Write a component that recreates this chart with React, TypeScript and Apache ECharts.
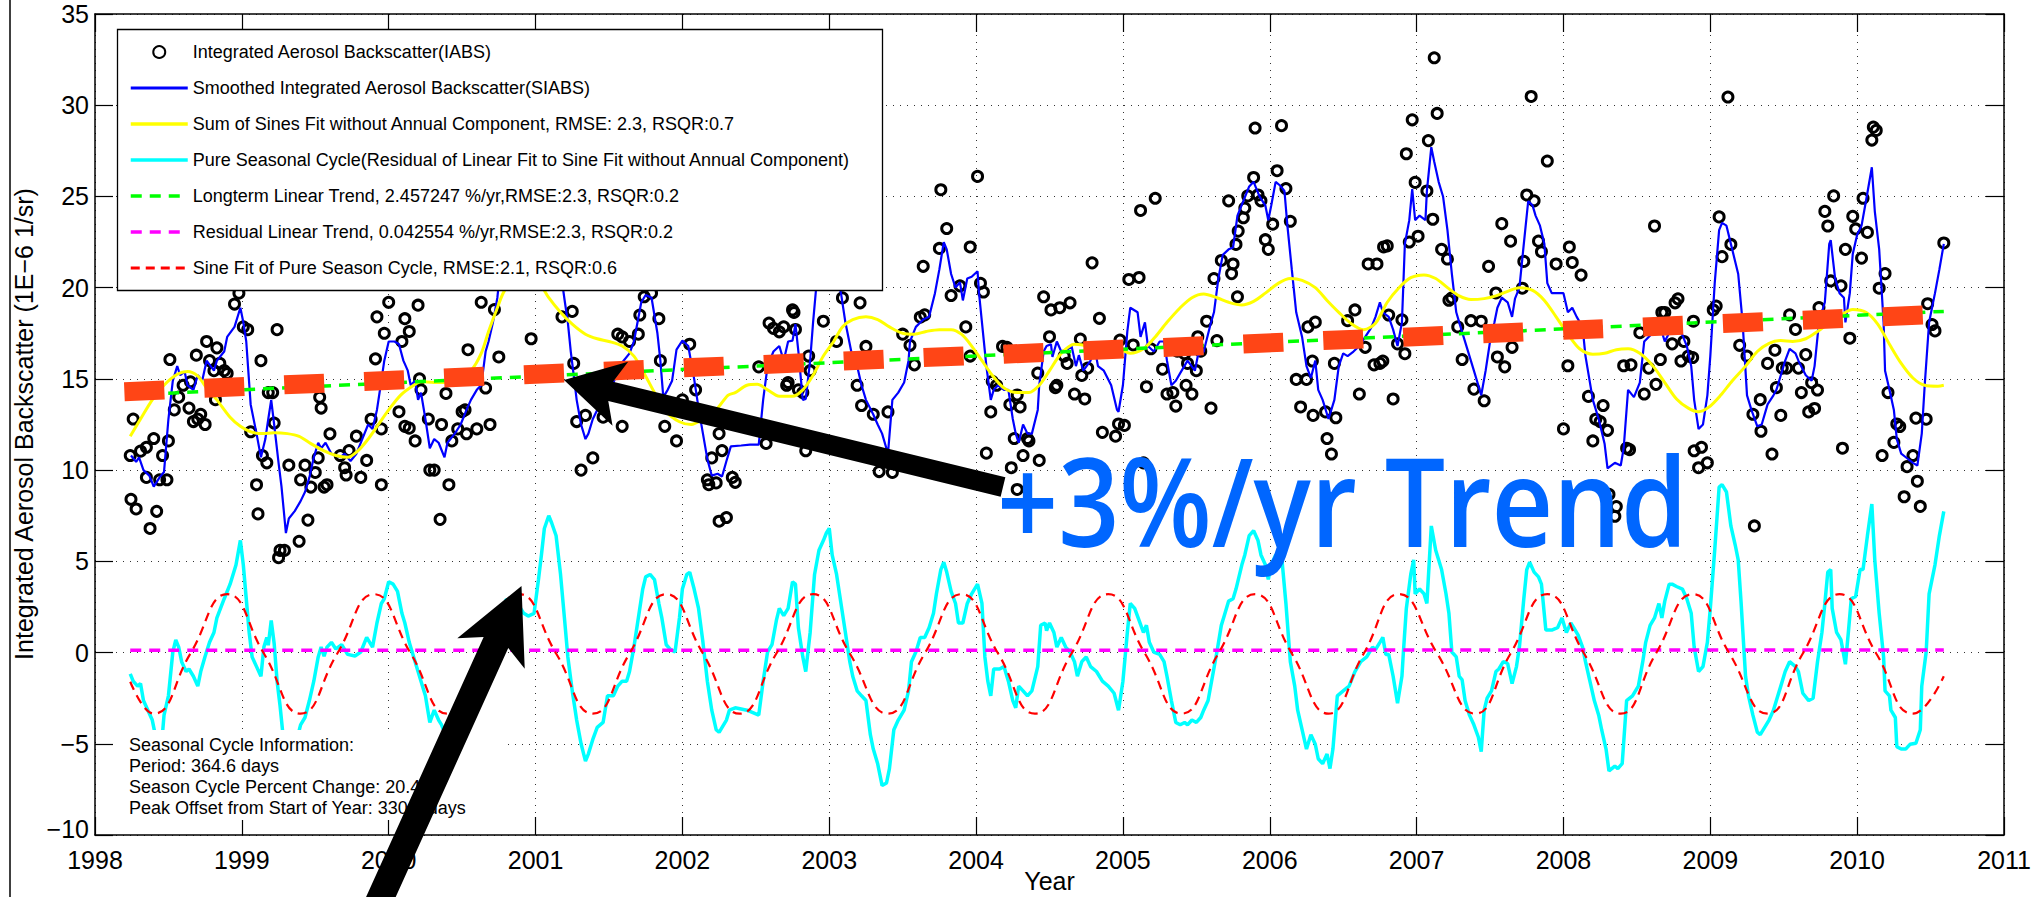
import React, { useEffect, useRef } from "react";
import * as echarts from "echarts";

const FONT = "'Liberation Sans', Arial, Helvetica, sans-serif";

const X_MIN = 1998;
const X_MAX = 2011;
const Y_MIN = -10;
const Y_MAX = 35;

const LEGEND_NAMES = [
  "Integrated Aerosol Backscatter(IABS)",
  "Smoothed Integrated Aerosol Backscatter(SIABS)",
  "Sum of Sines Fit without Annual Component, RMSE: 2.3, RSQR:0.7",
  "Pure Seasonal Cycle(Residual of Linear Fit to Sine Fit without Annual Component)",
  "Longterm Linear Trend, 2.457247 %/yr,RMSE:2.3, RSQR:0.2",
  "Residual Linear Trend, 0.042554 %/yr,RMSE:2.3, RSQR:0.2",
  "Sine Fit of Pure Season Cycle, RMSE:2.1, RSQR:0.6",
];

const INFO_LINES = [
  "Seasonal Cycle Information:",
  "Period: 364.6 days",
  "Season Cycle Percent Change: 20.4%",
  "Peak Offset from Start of Year: 330.2 days",
];

const ANNOTATION = "+3%/yr Trend";
const X_TITLE = "Year";
const Y_TITLE = "Integrated Aerosol Backscatter (1E\u22126 1/sr)";

// IABS observations [year, value]
const IABS: [number, number][] = [
  [1998.24, 10.8], [1998.245, 8.4], [1998.28, 7.87], [1998.26, 12.8], [1998.31, 11.04], [1998.35, 11.25],
  [1998.40, 11.73], [1998.35, 9.6], [1998.375, 6.8], [1998.42, 7.74], [1998.44, 9.47], [1998.49, 9.47],
  [1998.46, 10.8], [1998.50, 11.6], [1998.51, 16.06], [1998.54, 13.3], [1998.57, 14.0], [1998.60, 14.65],
  [1998.64, 13.4], [1998.65, 14.84], [1998.67, 12.66], [1998.70, 12.8], [1998.72, 13.06], [1998.75, 12.5],
  [1998.69, 16.3], [1998.76, 17.05], [1998.78, 16.0], [1998.81, 15.45], [1998.83, 16.7], [1998.82, 13.86],
  [1998.85, 15.85], [1998.88, 15.45], [1998.90, 15.3], [1998.95, 19.1], [1998.98, 19.7], [1999.01, 17.85],
  [1999.04, 17.7], [1999.13, 16.0], [1999.24, 17.7], [1999.06, 12.1], [1999.10, 9.2], [1999.11, 7.6],
  [1999.14, 10.8], [1999.17, 10.4], [1999.18, 14.25], [1999.21, 14.25], [1999.22, 12.58], [1999.26, 5.6],
  [1999.29, 5.6], [1999.25, 5.2], [1999.39, 6.1], [1999.45, 7.26], [1999.32, 10.27], [1999.40, 9.47],
  [1999.43, 10.27], [1999.47, 9.07], [1999.50, 9.87], [1999.52, 10.67], [1999.56, 9.07], [1999.58, 9.2],
  [1999.60, 11.99], [1999.53, 13.99], [1999.54, 13.4], [1999.67, 10.8], [1999.70, 10.13], [1999.71, 9.73],
  [1999.73, 11.07], [1999.78, 11.86], [1999.81, 9.6], [1999.85, 10.53], [1999.88, 12.79], [1999.91, 16.1],
  [1999.95, 9.2], [1999.95, 12.26], [1999.92, 18.4], [1999.97, 17.5], [2000.00, 19.2], [2000.09, 17.05],
  [2000.11, 18.3], [2000.14, 17.6], [2000.20, 19.04], [2000.07, 13.2], [2000.11, 12.4], [2000.14, 12.3],
  [2000.18, 11.6], [2000.21, 15.0], [2000.22, 14.4], [2000.27, 12.8], [2000.28, 10.0], [2000.31, 10.0],
  [2000.36, 12.5], [2000.35, 7.3], [2000.39, 14.2], [2000.41, 9.2], [2000.43, 11.6], [2000.47, 12.26],
  [2000.50, 13.2], [2000.53, 11.99], [2000.52, 13.3], [2000.54, 16.6], [2000.60, 12.26], [2000.66, 14.5],
  [2000.63, 19.2], [2000.69, 12.5], [2000.72, 18.8], [2000.75, 16.2], [2000.97, 17.2], [2001.18, 18.4],
  [2001.25, 18.7], [2001.26, 15.85], [2001.28, 12.66], [2001.31, 10.0], [2001.39, 10.67], [2001.34, 13.0],
  [2001.46, 12.9], [2001.59, 12.4], [2001.56, 17.45], [2001.59, 17.3], [2001.64, 17.05], [2001.70, 17.45],
  [2001.71, 18.5], [2001.74, 19.5], [2001.79, 19.7], [2001.84, 18.3], [2001.85, 16.0], [2001.88, 12.4],
  [2001.96, 11.6], [2002.00, 13.85], [2002.09, 14.4], [2002.05, 16.9], [2002.18, 9.2], [2002.25, 7.2],
  [2002.30, 7.4], [2002.17, 9.47], [2002.20, 10.67], [2002.27, 11.07], [2002.25, 12.0], [2002.23, 9.3],
  [2002.34, 9.6],
  [2002.36, 9.33], [2002.52, 15.66], [2002.57, 11.46], [2002.59, 18.06], [2002.62, 17.77], [2002.66, 17.58],
  [2002.69, 17.85], [2002.71, 14.65], [2002.72, 14.8], [2002.75, 18.78], [2002.76, 18.64], [2002.77, 17.71],
  [2002.79, 14.4], [2002.82, 14.25], [2002.84, 11.06], [2002.86, 16.25], [2002.87, 15.45], [2002.96, 18.16],
  [2003.05, 17.05], [2003.09, 19.44], [2003.21, 19.17], [2003.19, 14.65], [2003.22, 13.54], [2003.25, 16.78],
  [2003.30, 13.06], [2003.34, 9.92], [2003.40, 13.19], [2003.43, 9.87], [2003.50, 17.45], [2003.55, 16.84],
  [2003.58, 15.77], [2003.62, 18.38], [2003.65, 18.51], [2003.64, 21.17], [2003.75, 22.15], [2003.76, 25.37],
  [2003.80, 23.24], [2003.83, 19.57], [2003.89, 20.1], [2003.93, 17.85], [2003.96, 22.23], [2004.01, 26.1],
  [2004.03, 20.24], [2004.05, 19.76], [2003.96, 16.25], [2004.07, 10.93], [2004.10, 13.19], [2004.11, 14.87],
  [2004.14, 14.65], [2004.18, 16.78], [2004.21, 16.73], [2004.23, 13.59], [2004.26, 11.73], [2004.28, 14.12],
  [2004.30, 13.46], [2004.32, 10.8], [2004.35, 11.73], [2004.36, 11.6], [2004.42, 15.32], [2004.43, 10.53],
  [2004.24, 10.13], [2004.28, 8.94], [2004.46, 19.5], [2004.50, 17.31], [2004.51, 18.78], [2004.57, 18.9],
  [2004.64, 19.17], [2004.54, 14.52], [2004.55, 14.65], [2004.60, 16.25], [2004.62, 15.85], [2004.67, 14.17],
  [2004.71, 17.18], [2004.72, 15.19], [2004.74, 13.9], [2004.76, 15.59], [2004.79, 21.36], [2004.84, 18.32],
  [2004.86, 12.07], [2004.95, 11.86], [2004.97, 12.53], [2005.01, 12.45], [2004.98, 17.13], [2005.04, 20.45],
  [2005.11, 20.56], [2005.07, 16.86], [2005.12, 24.23], [2005.22, 24.9], [2005.16, 14.57], [2005.14, 10.4],
  [2005.19, 16.65], [2005.27, 15.53], [2005.30, 14.17], [2005.34, 14.25], [2005.36, 13.51], [2005.43, 14.65],
  [2005.44, 15.85], [2005.47, 14.17], [2005.50, 15.45], [2005.37, 16.52], [2005.42, 16.38], [2005.51, 17.31],
  [2005.53, 16.52], [2005.60, 13.4], [2005.57, 18.16], [2005.64, 17.1], [2005.62, 20.5], [2005.67, 21.49],
  [2005.74, 20.77], [2005.75, 21.3], [2005.77, 22.37], [2005.72, 24.76], [2005.78, 19.5], [2005.785, 23.1],
  [2005.82, 23.83], [2005.83, 24.36], [2005.85, 25.03], [2005.89, 26.04], [2005.92, 25.08], [2005.90, 28.75],
  [2005.94, 24.76], [2005.97, 22.63], [2005.99, 22.1], [2006.02, 23.48], [2006.05, 26.41], [2006.08, 28.88],
  [2006.11, 25.43], [2006.14, 23.64], [2006.18, 14.97], [2006.21, 13.46], [2006.26, 17.85], [2006.31, 18.11],
  [2006.29, 15.98], [2006.25, 14.97], [2006.295, 13.0], [2006.38, 13.19], [2006.39, 11.73], [2006.42, 10.88],
  [2006.45, 12.87], [2006.44, 15.85], [2006.53, 18.19], [2006.58, 18.78], [2006.61, 14.17], [2006.65, 16.73],
  [2006.67, 21.3], [2006.71, 15.77],
  [2006.73, 21.3], [2006.75, 15.85], [2006.77, 15.98], [2006.775, 22.23], [2006.80, 22.29], [2006.81, 18.5],
  [2006.84, 13.9], [2006.87, 16.92], [2006.90, 18.24], [2006.92, 16.38], [2006.93, 27.34], [2006.95, 22.5],
  [2006.97, 29.2], [2006.99, 25.77], [2007.01, 22.82], [2007.07, 25.3], [2007.08, 28.06], [2007.11, 23.75],
  [2007.12, 32.6], [2007.14, 29.55], [2007.17, 22.1], [2007.21, 21.57], [2007.22, 19.31], [2007.24, 19.44],
  [2007.28, 17.85], [2007.31, 16.06], [2007.37, 18.19], [2007.39, 14.44], [2007.44, 18.16], [2007.46, 13.8],
  [2007.49, 21.17], [2007.54, 19.71], [2007.55, 16.2], [2007.58, 23.51], [2007.60, 15.66], [2007.64, 22.55],
  [2007.65, 16.73], [2007.72, 19.97], [2007.73, 21.44], [2007.75, 25.08], [2007.78, 30.48], [2007.80, 24.76],
  [2007.83, 22.55], [2007.85, 21.97], [2007.89, 26.94], [2007.95, 21.3], [2008.00, 12.26], [2008.03, 15.72],
  [2008.04, 22.23], [2008.06, 21.38], [2008.12, 20.69], [2008.17, 14.04], [2008.20, 11.6], [2008.22, 12.79],
  [2008.25, 12.66], [2008.27, 13.54], [2008.30, 12.18], [2008.31, 8.67], [2008.36, 8.0], [2008.35, 7.47],
  [2008.41, 15.72], [2008.43, 11.2], [2008.46, 15.77], [2008.45, 11.12], [2008.52, 17.53], [2008.55, 14.17],
  [2008.58, 15.59], [2008.62, 23.38], [2008.63, 14.7], [2008.66, 16.06], [2008.67, 18.64], [2008.69, 18.64],
  [2008.74, 16.92], [2008.76, 19.17], [2008.78, 19.39], [2008.80, 15.98], [2008.82, 17.05], [2008.85, 16.25],
  [2008.88, 16.17], [2008.885, 18.16], [2008.89, 11.06], [2008.92, 10.13], [2008.94, 11.25], [2008.98, 10.4],
  [2009.02, 18.78], [2009.04, 18.99], [2009.06, 23.88], [2009.08, 21.7], [2009.12, 30.45], [2009.14, 22.37],
  [2009.20, 16.84], [2009.25, 16.25], [2009.29, 13.06], [2009.30, 6.94], [2009.34, 13.86], [2009.345, 12.13],
  [2009.39, 15.85], [2009.42, 10.88], [2009.44, 16.57], [2009.45, 14.52], [2009.48, 13.0], [2009.49, 15.59],
  [2009.52, 15.59], [2009.54, 18.51], [2009.58, 17.71], [2009.60, 15.59], [2009.62, 14.25], [2009.65, 16.33],
  [2009.67, 13.19], [2009.69, 14.79], [2009.71, 13.38], [2009.73, 14.39], [2009.74, 18.91], [2009.78, 24.18],
  [2009.80, 23.38], [2009.82, 20.37], [2009.84, 25.03], [2009.89, 20.1], [2009.90, 11.2], [2009.92, 22.1],
  [2009.95, 17.23], [2009.97, 23.91], [2009.99, 23.22], [2010.03, 21.62], [2010.04, 24.9], [2010.07, 23.03],
  [2010.10, 28.09], [2010.11, 28.8], [2010.13, 28.62], [2010.15, 19.97], [2010.19, 20.77], [2010.17, 10.8],
  [2010.21, 14.25], [2010.25, 11.52], [2010.27, 12.53], [2010.29, 12.39], [2010.32, 8.54], [2010.34, 10.19],
  [2010.38, 10.8], [2010.41, 9.39], [2010.43, 8.01], [2010.40, 12.85], [2010.47, 12.79], [2010.48, 19.12],
  [2010.51, 17.98], [2010.53, 17.63], [2010.59, 22.45],
];

// Smoothed IABS
const SIABS: [number, number][] = [
  [1998.245, 10.8], [1998.28, 10.45], [1998.30, 10.7], [1998.33, 10.0], [1998.37, 9.7], [1998.40, 9.1],
  [1998.44, 9.6], [1998.47, 9.9], [1998.50, 12.8], [1998.53, 14.9], [1998.56, 15.7], [1998.58, 15.2],
  [1998.61, 15.4], [1998.63, 14.65], [1998.67, 14.4], [1998.70, 15.2], [1998.73, 14.9], [1998.76, 16.0],
  [1998.81, 15.45], [1998.83, 16.0], [1998.88, 16.5], [1998.90, 17.3], [1998.95, 17.85], [1998.99, 18.9],
  [1999.01, 18.1], [1999.03, 17.05], [1999.06, 13.6], [1999.10, 12.0], [1999.13, 10.7], [1999.16, 11.7],
  [1999.18, 12.8], [1999.20, 13.85], [1999.22, 12.5], [1999.25, 10.4], [1999.27, 9.1], [1999.30, 6.55],
  [1999.32, 7.35], [1999.36, 7.75], [1999.40, 8.3], [1999.43, 8.8], [1999.46, 9.6], [1999.49, 10.7],
  [1999.52, 11.5], [1999.54, 11.2], [1999.57, 11.5], [1999.61, 10.9], [1999.67, 10.7], [1999.70, 10.9],
  [1999.74, 10.5], [1999.78, 10.9], [1999.82, 11.7], [1999.86, 12.5], [1999.89, 12.25], [1999.92, 13.3],
  [1999.95, 14.9], [1999.97, 16.0], [2000.00, 17.05], [2000.04, 17.05], [2000.07, 16.9], [2000.10, 16.0],
  [2000.13, 15.45], [2000.15, 14.65], [2000.18, 14.9], [2000.20, 13.85], [2000.22, 14.25], [2000.25, 12.8],
  [2000.28, 11.2], [2000.31, 11.7], [2000.34, 11.5], [2000.38, 10.7], [2000.40, 11.5], [2000.45, 12.0],
  [2000.49, 12.5], [2000.53, 13.3], [2000.56, 13.85], [2000.60, 14.4], [2000.63, 14.65], [2000.66, 16.5],
  [2000.68, 17.05], [2000.71, 18.1], [2000.74, 19.45], [2000.76, 21.0], [2000.82, 23.5], [2000.90, 25.5],
  [2000.97, 26.5], [2001.04, 27.0], [2001.10, 25.0], [2001.16, 21.5], [2001.20, 19.2], [2001.22, 18.1],
  [2001.24, 16.5], [2001.26, 15.2], [2001.28, 13.85], [2001.31, 12.5], [2001.34, 11.7], [2001.36, 12.0],
  [2001.39, 12.8], [2001.42, 13.3], [2001.47, 13.8], [2001.53, 14.8], [2001.59, 15.9], [2001.64, 16.4],
  [2001.67, 17.05], [2001.72, 19.2], [2001.75, 19.6], [2001.79, 19.45], [2001.83, 17.5], [2001.85, 16.0],
  [2001.87, 14.0], [2001.90, 14.4], [2001.93, 14.9], [2001.96, 16.6], [2002.00, 17.1], [2002.04, 16.8],
  [2002.08, 15.0], [2002.11, 13.4], [2002.14, 12.0], [2002.17, 10.6], [2002.20, 9.7], [2002.24, 9.8],
  [2002.27, 9.65], [2002.30, 10.5], [2002.33, 11.3], [2002.40, 11.35], [2002.46, 11.4], [2002.52, 11.4],
  [2002.55, 13.85], [2002.58, 15.7], [2002.62, 16.5], [2002.66, 16.8], [2002.69, 16.0], [2002.72, 17.05],
  [2002.75, 17.1], [2002.77, 18.0], [2002.79, 16.5], [2002.82, 13.85], [2002.84, 13.9], [2002.87, 16.0],
  [2002.89, 18.1], [2002.91, 19.9], [2002.96, 21.5], [2003.01, 21.8], [2003.06, 20.3], [2003.08, 19.7],
  [2003.11, 18.1], [2003.15, 16.5], [2003.19, 15.7], [2003.22, 14.65], [2003.25, 13.85], [2003.30, 13.05],
  [2003.33, 12.5], [2003.36, 12.0], [2003.40, 10.9], [2003.43, 13.85], [2003.47, 14.25], [2003.51, 14.8],
  [2003.54, 16.0], [2003.55, 17.05], [2003.59, 17.85], [2003.64, 18.25], [2003.68, 18.4], [2003.72, 19.7],
  [2003.75, 21.0], [2003.78, 22.5], [2003.80, 22.1], [2003.83, 20.75], [2003.86, 20.0], [2003.89, 20.3],
  [2003.91, 19.3], [2003.94, 20.5], [2003.97, 20.6], [2004.01, 20.9], [2004.02, 19.7], [2004.04, 18.1],
  [2004.07, 15.7], [2004.10, 13.85], [2004.12, 14.4], [2004.15, 14.65], [2004.19, 14.4], [2004.22, 14.4],
  [2004.25, 12.8], [2004.27, 12.0], [2004.29, 11.5], [2004.32, 12.5], [2004.35, 12.0], [2004.38, 12.0],
  [2004.42, 13.3], [2004.43, 14.65], [2004.46, 16.5], [2004.48, 16.8], [2004.51, 16.9], [2004.52, 16.2],
  [2004.55, 17.05], [2004.58, 16.5], [2004.61, 16.5], [2004.65, 16.8], [2004.68, 15.7], [2004.70, 16.3],
  [2004.73, 15.45], [2004.78, 16.0], [2004.80, 17.05], [2004.83, 15.7], [2004.87, 15.45], [2004.92, 14.65],
  [2004.96, 13.3], [2004.97, 13.2], [2005.00, 14.65], [2005.03, 17.6], [2005.05, 18.9], [2005.10, 18.65],
  [2005.12, 17.3], [2005.15, 18.1], [2005.17, 16.8], [2005.21, 16.5], [2005.25, 17.05], [2005.28, 17.05],
  [2005.30, 16.0], [2005.33, 14.65], [2005.36, 14.9], [2005.40, 15.45], [2005.44, 16.0], [2005.49, 15.45],
  [2005.51, 16.25], [2005.55, 16.5], [2005.60, 18.1], [2005.62, 18.65], [2005.65, 20.5], [2005.68, 21.8],
  [2005.72, 22.1], [2005.75, 22.2], [2005.78, 23.95], [2005.82, 24.75], [2005.86, 25.55], [2005.89, 25.8],
  [2005.93, 25.0], [2005.97, 24.5], [2005.99, 23.7], [2006.01, 24.5], [2006.04, 25.8], [2006.07, 25.6],
  [2006.10, 25.3], [2006.12, 23.4], [2006.15, 21.0], [2006.18, 18.65], [2006.22, 17.3], [2006.25, 15.7],
  [2006.28, 15.05], [2006.31, 16.0], [2006.33, 14.4], [2006.36, 13.85], [2006.40, 12.8], [2006.44, 13.85],
  [2006.47, 15.7], [2006.50, 16.4], [2006.53, 16.25], [2006.57, 16.5], [2006.61, 16.8], [2006.65, 17.3],
  [2006.69, 17.8], [2006.72, 18.4], [2006.75, 19.2], [2006.77, 18.65], [2006.81, 18.4], [2006.84, 17.7],
  [2006.87, 16.8], [2006.90, 18.1], [2006.92, 22.4], [2006.95, 23.7], [2006.97, 25.4], [2006.99, 23.7],
  [2007.02, 23.95], [2007.06, 23.7], [2007.07, 25.3], [2007.10, 27.7], [2007.12, 26.9], [2007.15, 25.8],
  [2007.18, 25.0], [2007.21, 23.15], [2007.24, 20.75], [2007.27, 18.65], [2007.29, 18.1], [2007.32, 17.3],
  [2007.36, 16.25], [2007.39, 15.45], [2007.42, 14.65], [2007.44, 14.1], [2007.47, 15.45], [2007.50, 17.05],
  [2007.53, 18.1], [2007.55, 18.9], [2007.58, 19.45], [2007.62, 19.2], [2007.65, 18.4], [2007.67, 19.4],
  [2007.70, 20.0], [2007.73, 22.4], [2007.76, 24.75], [2007.79, 24.5], [2007.81, 23.95], [2007.84, 23.4],
  [2007.87, 22.4], [2007.89, 20.25], [2007.92, 19.7], [2007.96, 19.7], [2008.00, 19.7], [2008.03, 18.65],
  [2008.06, 18.9], [2008.09, 18.4], [2008.13, 17.85], [2008.15, 16.25], [2008.20, 13.85], [2008.24, 12.8],
  [2008.28, 11.45], [2008.30, 10.1], [2008.35, 10.4], [2008.39, 10.25], [2008.41, 11.2], [2008.44, 14.4],
  [2008.48, 14.0], [2008.52, 14.8], [2008.55, 17.05], [2008.58, 17.3], [2008.62, 17.6], [2008.66, 17.85],
  [2008.69, 17.05], [2008.74, 17.85], [2008.80, 17.6], [2008.84, 16.8], [2008.87, 15.7], [2008.89, 13.85],
  [2008.92, 12.25], [2008.95, 12.5], [2008.98, 14.1], [2009.00, 16.25], [2009.03, 20.25], [2009.06, 23.15],
  [2009.08, 23.55], [2009.11, 23.4], [2009.14, 22.4], [2009.19, 20.75], [2009.22, 18.1], [2009.25, 14.1],
  [2009.28, 13.3], [2009.32, 12.4], [2009.35, 12.5], [2009.39, 13.6], [2009.43, 14.1], [2009.45, 14.4],
  [2009.48, 15.2], [2009.51, 16.0], [2009.54, 16.65], [2009.58, 16.4], [2009.60, 16.0], [2009.65, 15.2],
  [2009.69, 14.9], [2009.71, 15.7], [2009.74, 18.1], [2009.78, 19.2], [2009.81, 22.4], [2009.82, 22.6],
  [2009.85, 20.5], [2009.88, 19.7], [2009.91, 19.45], [2009.92, 18.1], [2009.95, 19.7], [2009.97, 21.85],
  [2010.00, 22.9], [2010.03, 23.4], [2010.06, 24.75], [2010.10, 26.6], [2010.12, 24.2], [2010.15, 22.1],
  [2010.18, 18.1], [2010.19, 15.45], [2010.22, 14.4], [2010.25, 13.3], [2010.27, 11.7], [2010.30, 10.9],
  [2010.34, 10.65], [2010.38, 10.4], [2010.41, 10.25], [2010.44, 12.0], [2010.46, 14.65], [2010.49, 18.1],
  [2010.53, 19.7], [2010.56, 21.0], [2010.59, 22.4],
];

// Sum of sines fit without annual component
const SINES_FIT: [number, number][] = [
  [1998.24, 11.85], [1998.31, 12.8], [1998.39, 13.85], [1998.47, 14.65], [1998.56, 15.25], [1998.63, 15.4],
  [1998.70, 15.15], [1998.76, 14.5], [1998.83, 13.85], [1998.92, 12.9], [1998.99, 12.4], [1999.06, 12.1],
  [1999.14, 12.0], [1999.22, 12.05], [1999.31, 12.0], [1999.39, 11.85], [1999.47, 11.45], [1999.56, 11.05],
  [1999.64, 10.8], [1999.72, 10.7], [1999.79, 11.05], [1999.86, 11.7], [1999.93, 12.5], [2000.00, 13.3],
  [2000.08, 14.1], [2000.17, 14.65], [2000.22, 14.85], [2000.31, 14.8], [2000.39, 14.8], [2000.47, 14.95],
  [2000.56, 15.45], [2000.63, 16.4], [2000.68, 17.6], [2000.74, 18.9], [2000.79, 19.85], [2000.87, 20.5],
  [2000.95, 20.7], [2001.03, 20.2], [2001.09, 19.45], [2001.17, 18.65], [2001.25, 18.0], [2001.34, 17.45],
  [2001.42, 17.2], [2001.50, 17.05], [2001.59, 16.8], [2001.67, 16.25], [2001.74, 15.3], [2001.81, 14.25],
  [2001.89, 13.2], [2001.98, 12.65], [2002.06, 12.5], [2002.14, 12.8], [2002.23, 13.3], [2002.31, 14.1],
  [2002.36, 14.25], [2002.44, 14.65], [2002.51, 14.7], [2002.58, 14.4], [2002.66, 14.05], [2002.75, 14.05],
  [2002.82, 14.4], [2002.89, 15.2], [2002.96, 16.25], [2003.03, 17.05], [2003.09, 17.85], [2003.16, 18.25],
  [2003.25, 18.4], [2003.33, 18.25], [2003.41, 17.85], [2003.50, 17.5], [2003.58, 17.45], [2003.66, 17.6],
  [2003.75, 17.7], [2003.83, 17.7], [2003.90, 17.45], [2003.97, 16.8], [2004.04, 16.0], [2004.11, 15.2],
  [2004.19, 14.5], [2004.28, 14.25], [2004.36, 14.25], [2004.43, 14.65], [2004.50, 15.45], [2004.58, 16.4],
  [2004.67, 16.9], [2004.75, 16.8], [2004.82, 16.4], [2004.89, 16.5], [2004.97, 16.65], [2005.05, 16.4],
  [2005.14, 16.65], [2005.22, 17.3], [2005.30, 18.1], [2005.39, 18.9], [2005.47, 19.45], [2005.55, 19.65],
  [2005.64, 19.45], [2005.72, 19.2], [2005.81, 19.05], [2005.89, 19.25], [2005.97, 19.7], [2006.06, 20.25],
  [2006.14, 20.5], [2006.22, 20.4], [2006.31, 20.0], [2006.39, 19.3], [2006.47, 18.65], [2006.56, 18.0],
  [2006.64, 17.7], [2006.72, 18.05], [2006.80, 19.2], [2006.88, 20.0], [2006.96, 20.55], [2007.05, 20.7],
  [2007.13, 20.5], [2007.21, 20.0], [2007.29, 19.55], [2007.37, 19.35], [2007.46, 19.4], [2007.54, 19.55],
  [2007.62, 19.8], [2007.70, 20.0], [2007.79, 19.85], [2007.87, 19.3], [2007.95, 18.4], [2008.03, 17.45],
  [2008.11, 16.65], [2008.20, 16.35], [2008.28, 16.4], [2008.36, 16.6], [2008.44, 16.65], [2008.52, 16.4],
  [2008.61, 15.7], [2008.69, 14.8], [2008.77, 13.9], [2008.85, 13.4], [2008.92, 13.2], [2008.99, 13.45],
  [2009.07, 14.1], [2009.15, 14.9], [2009.24, 15.7], [2009.32, 16.5], [2009.40, 16.95], [2009.48, 17.1],
  [2009.56, 17.05], [2009.65, 17.2], [2009.73, 17.6], [2009.81, 18.05], [2009.89, 18.5], [2009.97, 18.8],
  [2010.06, 18.65], [2010.14, 18.0], [2010.22, 16.9], [2010.30, 15.85], [2010.38, 15.05], [2010.46, 14.65],
  [2010.55, 14.6], [2010.59, 14.65],
];

// Pure seasonal cycle
const SEASONAL: [number, number][] = [
  [1998.24, -1.17], [1998.26, -1.57], [1998.29, -1.84], [1998.31, -1.7], [1998.33, -2.63], [1998.36, -3.16],
  [1998.39, -3.7], [1998.41, -4.5], [1998.44, -4.6], [1998.46, -4.4], [1998.47, -3.43], [1998.50, -2.37],
  [1998.53, 0.03], [1998.55, 0.69], [1998.57, 0.3], [1998.59, -0.5], [1998.62, -1.04], [1998.64, -0.9],
  [1998.67, -1.3], [1998.70, -1.84], [1998.72, -1.04], [1998.75, -0.2], [1998.78, 0.56], [1998.81, 1.1],
  [1998.83, 1.9], [1998.88, 2.95], [1998.92, 3.75], [1998.96, 4.8], [1998.99, 6.15], [1999.01, 4.8],
  [1999.03, 2.95], [1999.05, 1.1], [1999.07, -0.24], [1999.10, -0.77], [1999.13, -1.3], [1999.15, 0.3],
  [1999.17, 0.83], [1999.18, 0.4], [1999.20, 1.76], [1999.22, 0.5], [1999.24, -1.57], [1999.26, -2.9],
  [1999.28, -4.5], [1999.31, -5.2], [1999.35, -5.0], [1999.38, -4.6], [1999.40, -3.96], [1999.43, -3.56],
  [1999.46, -2.63], [1999.49, -1.57], [1999.52, -0.24], [1999.54, 0.3], [1999.56, -0.2], [1999.58, 0.3],
  [1999.61, 0.56], [1999.64, 0.2], [1999.68, 0.43], [1999.72, -0.1], [1999.77, -0.19], [1999.81, 0.03],
  [1999.85, 0.83], [1999.89, 0.3], [1999.92, 1.62], [1999.95, 2.69], [1999.97, 2.95], [2000.00, 3.88],
  [2000.03, 3.75], [2000.06, 3.35], [2000.09, 2.15], [2000.11, 1.62], [2000.14, 0.56], [2000.17, -0.24],
  [2000.20, -1.04], [2000.22, -1.57], [2000.25, -2.37], [2000.28, -3.83], [2000.31, -3.16], [2000.34, -3.7],
  [2000.36, -3.96], [2000.39, -4.6], [2000.42, -4.2], [2000.46, -3.2], [2000.50, -2.6], [2000.55, -1.9],
  [2000.60, -1.5], [2000.65, -0.9], [2000.70, 0.5], [2000.75, 1.8], [2000.80, 2.9], [2000.86, 2.9],
  [2000.92, 2.15], [2000.95, 2.0], [2000.99, 2.15], [2001.02, 4.0], [2001.04, 5.35], [2001.06, 6.8],
  [2001.09, 7.5], [2001.11, 7.1], [2001.14, 6.4], [2001.17, 4.3], [2001.20, 1.6], [2001.22, -0.24],
  [2001.25, -2.1], [2001.28, -3.7], [2001.31, -5.0], [2001.34, -5.95], [2001.36, -5.55], [2001.39, -4.76],
  [2001.42, -4.1], [2001.46, -3.83], [2001.49, -2.37], [2001.53, -2.37], [2001.56, -1.84], [2001.59, -1.57],
  [2001.62, -1.57], [2001.64, -1.04], [2001.67, 0.3], [2001.70, 1.9], [2001.73, 3.48], [2001.75, 4.15],
  [2001.78, 4.28], [2001.81, 4.0], [2001.84, 2.69], [2001.86, 1.9], [2001.89, 0.43], [2001.92, 0.16],
  [2001.95, 0.03], [2001.98, 1.9], [2002.00, 3.48], [2002.03, 4.28], [2002.05, 4.4], [2002.08, 3.48],
  [2002.11, 2.42], [2002.14, 0.56], [2002.17, -1.57], [2002.20, -3.16], [2002.23, -4.23], [2002.25, -4.37],
  [2002.30, -3.7], [2002.32, -3.16], [2002.36, -3.03], [2002.44, -3.16], [2002.52, -3.43], [2002.55, -1.57],
  [2002.58, 0.03], [2002.61, 0.43], [2002.64, 1.76], [2002.66, 2.42], [2002.69, 2.02], [2002.72, 2.42],
  [2002.75, 3.88], [2002.77, 3.75], [2002.79, 1.36], [2002.82, -0.24], [2002.84, -1.04], [2002.87, 1.1],
  [2002.90, 4.28], [2002.93, 5.61], [2002.96, 6.14], [2002.98, 6.54], [2003.00, 6.81], [2003.02, 5.35],
  [2003.05, 4.28], [2003.08, 2.69], [2003.11, 1.1], [2003.14, -0.5], [2003.16, -1.3], [2003.19, -2.1],
  [2003.22, -2.37], [2003.25, -2.63], [2003.28, -4.5], [2003.30, -5.29], [2003.33, -6.1], [2003.36, -7.29],
  [2003.39, -7.15], [2003.41, -6.36], [2003.44, -4.23], [2003.47, -3.7], [2003.51, -3.16], [2003.54, -2.1],
  [2003.56, -0.5], [2003.59, 0.03], [2003.62, 0.83], [2003.65, 0.83], [2003.68, 1.36], [2003.71, 2.15],
  [2003.73, 3.22], [2003.76, 4.55], [2003.78, 4.95], [2003.80, 4.41], [2003.83, 3.35], [2003.86, 2.69],
  [2003.88, 1.62], [2003.91, 1.62], [2003.94, 2.69], [2003.97, 3.22], [2004.01, 3.75], [2004.04, 2.69],
  [2004.06, -0.24], [2004.08, -1.57], [2004.10, -2.37], [2004.12, -0.9], [2004.16, -0.9], [2004.19, -0.77],
  [2004.22, -1.57], [2004.25, -2.63], [2004.27, -3.03], [2004.29, -1.84], [2004.32, -2.1], [2004.35, -2.37],
  [2004.38, -2.1], [2004.42, -0.77], [2004.44, 1.49], [2004.47, 1.62], [2004.48, 1.2], [2004.50, 1.62],
  [2004.53, 1.1], [2004.55, 0.3], [2004.58, 0.83], [2004.61, 0.3], [2004.64, 0.03], [2004.67, -0.5],
  [2004.69, -1.3], [2004.72, -0.5], [2004.75, -0.24], [2004.78, -0.77], [2004.82, -1.04], [2004.86, -1.57],
  [2004.90, -1.84], [2004.94, -2.23], [2004.97, -3.16], [2005.00, -1.57], [2005.03, 1.1], [2005.05, 2.69],
  [2005.08, 2.42], [2005.11, 1.76], [2005.14, 1.1], [2005.16, 1.5], [2005.18, 0.56], [2005.21, 0.03],
  [2005.25, -0.1], [2005.28, -0.5], [2005.30, -1.3], [2005.33, -2.63], [2005.36, -3.83], [2005.39, -3.96],
  [2005.42, -3.83], [2005.44, -3.96], [2005.47, -3.7], [2005.50, -3.83], [2005.53, -3.56], [2005.55, -3.16],
  [2005.58, -2.63], [2005.61, -1.3], [2005.64, 0.03], [2005.67, 1.49], [2005.69, 2.02], [2005.72, 2.82],
  [2005.75, 2.95], [2005.77, 3.48], [2005.81, 4.81], [2005.83, 5.35], [2005.86, 6.41], [2005.89, 6.68],
  [2005.92, 6.14], [2005.94, 5.35], [2005.97, 4.81], [2005.99, 4.01], [2006.01, 4.81], [2006.04, 5.35],
  [2006.08, 5.35], [2006.11, 2.69], [2006.14, -0.5], [2006.17, -1.84], [2006.19, -3.16], [2006.22, -4.23],
  [2006.25, -5.29], [2006.28, -4.5], [2006.31, -5.03], [2006.33, -5.82], [2006.36, -6.09], [2006.39, -5.56],
  [2006.41, -6.36], [2006.43, -5.29], [2006.46, -2.37], [2006.50, -2.1], [2006.54, -1.84], [2006.58, -1.04],
  [2006.62, -0.5], [2006.66, -0.24], [2006.70, 0.3], [2006.72, 0.16], [2006.75, 0.56], [2006.77, 0.83],
  [2006.79, -0.1], [2006.81, -0.1], [2006.84, -1.3], [2006.87, -2.77], [2006.90, -1.3], [2006.91, 0.03],
  [2006.93, 2.42], [2006.96, 4.28], [2006.98, 5.08], [2006.99, 3.22], [2007.02, 3.48], [2007.05, 3.22],
  [2007.07, 2.69], [2007.10, 6.94], [2007.13, 5.61], [2007.17, 4.55], [2007.20, 3.22], [2007.22, 2.15],
  [2007.24, 0.03], [2007.27, -0.24], [2007.29, -1.3], [2007.31, -1.5], [2007.33, -2.63], [2007.36, -3.43],
  [2007.39, -3.96], [2007.42, -4.63], [2007.44, -5.43], [2007.46, -3.16], [2007.48, -2.5], [2007.51, -2.1],
  [2007.54, -1.04], [2007.56, -0.9], [2007.59, -0.5], [2007.62, -0.6], [2007.65, -1.7], [2007.68, -0.77],
  [2007.70, 0.3], [2007.73, 2.95], [2007.75, 4.55], [2007.77, 4.95], [2007.80, 4.41], [2007.83, 4.15],
  [2007.85, 3.75], [2007.88, 1.23], [2007.92, 1.23], [2007.96, 1.36], [2007.99, 1.9], [2008.02, 1.1],
  [2008.05, 1.62], [2008.07, 1.36], [2008.10, 0.96], [2008.13, 0.3], [2008.15, -0.5], [2008.18, -1.57],
  [2008.21, -2.63], [2008.24, -3.43], [2008.26, -4.23], [2008.29, -5.29], [2008.31, -6.49], [2008.35, -6.22],
  [2008.37, -6.36], [2008.40, -6.09], [2008.43, -2.63], [2008.47, -2.37], [2008.51, -1.84], [2008.54, -0.5],
  [2008.56, 0.56], [2008.59, 1.49], [2008.62, 1.9], [2008.65, 2.69], [2008.67, 1.9], [2008.69, 2.82],
  [2008.72, 3.75], [2008.74, 3.75], [2008.77, 3.62], [2008.81, 3.48], [2008.84, 2.95], [2008.87, 2.15],
  [2008.89, 0.3], [2008.92, -1.04], [2008.95, -0.77], [2008.98, 0.56], [2009.00, 2.42], [2009.03, 5.61],
  [2009.06, 9.07], [2009.08, 9.2], [2009.11, 8.8], [2009.14, 6.94], [2009.17, 5.88], [2009.19, 5.08],
  [2009.21, 2.69], [2009.24, -1.3], [2009.26, -2.37], [2009.29, -3.43], [2009.32, -4.36], [2009.34, -4.5],
  [2009.37, -4.1], [2009.40, -3.7], [2009.43, -3.16], [2009.45, -2.63], [2009.48, -1.84], [2009.51, -1.04],
  [2009.54, -0.5], [2009.58, -0.77], [2009.60, -1.04], [2009.63, -2.23], [2009.67, -2.63], [2009.70, -2.5],
  [2009.73, -0.5], [2009.76, 1.1], [2009.78, 2.69], [2009.80, 4.41], [2009.82, 4.55], [2009.83, 2.42],
  [2009.86, 1.1], [2009.89, 0.69], [2009.92, -0.64], [2009.94, 1.1], [2009.96, 2.95], [2009.99, 3.08],
  [2010.02, 4.55], [2010.04, 4.55], [2010.07, 6.41], [2010.10, 8.14], [2010.12, 5.08], [2010.15, 2.15],
  [2010.18, -0.24], [2010.19, -2.1], [2010.22, -2.37], [2010.23, -3.16], [2010.26, -3.56], [2010.27, -5.16],
  [2010.30, -5.29], [2010.33, -5.29], [2010.36, -5.03], [2010.40, -4.97], [2010.43, -4.23], [2010.44, -1.84],
  [2010.47, 0.03], [2010.49, 3.22], [2010.53, 4.81], [2010.56, 6.41], [2010.59, 7.74],
];

// Sine fit of pure seasonal cycle (peaks, troughs and crossings)
const SEASON_SINE: [number, number][] = [
  [1998.24, -1.6], [1998.40, -3.35], [1998.65, -0.05], [1998.90, 3.2],
  [1999.15, -0.05], [1999.40, -3.35], [1999.65, -0.05], [1999.90, 3.2],
  [2000.15, -0.05], [2000.40, -3.35], [2000.65, -0.05], [2000.89, 3.2],
  [2001.14, -0.05], [2001.39, -3.35], [2001.64, -0.05], [2001.89, 3.2],
  [2002.14, -0.05], [2002.39, -3.35], [2002.64, -0.05], [2002.89, 3.2],
  [2003.14, -0.05], [2003.40, -3.35], [2003.65, -0.05], [2003.90, 3.2],
  [2004.15, -0.05], [2004.40, -3.35], [2004.65, -0.05], [2004.90, 3.2],
  [2005.15, -0.05], [2005.40, -3.35], [2005.65, -0.05], [2005.90, 3.2],
  [2006.15, -0.05], [2006.40, -3.35], [2006.64, -0.05], [2006.88, 3.2],
  [2007.14, -0.05], [2007.40, -3.35], [2007.64, -0.05], [2007.89, 3.2],
  [2008.14, -0.05], [2008.39, -3.35], [2008.63, -0.05], [2008.88, 3.2],
  [2009.13, -0.05], [2009.39, -3.35], [2009.63, -0.05], [2009.88, 3.2],
  [2010.13, -0.05], [2010.38, -3.35], [2010.59, -1.3],
];

const LONG_TREND: [number, number][] = [[1998.24, 14.12], [2010.59, 18.7]];
const RESID_TREND: [number, number][] = [[1998.24, 0.12], [2010.59, 0.14]];
const HIGHLIGHT_TREND: [number, number][] = [[1998.2, 14.3], [2010.45, 18.5]];

const LEGEND_LINE_WIDTHS = [0, 3, 3.5, 3.5, 3.5, 3.5, 3];

type Pt = [number, number];
function arrowPolygon(tip: Pt, tail: Pt, shaftW: number, headLen: number, headHalfW: number, notch: number): Pt[] {
  const dx = tip[0] - tail[0];
  const dy = tip[1] - tail[1];
  const len = Math.hypot(dx, dy);
  const ux = dx / len;
  const uy = dy / len;
  const px = -uy;
  const py = ux;
  const bx = tip[0] - ux * headLen;
  const by = tip[1] - uy * headLen;
  const nx = tip[0] - ux * (headLen - notch);
  const ny = tip[1] - uy * (headLen - notch);
  const hs = shaftW / 2;
  return [
    tip,
    [bx + px * headHalfW, by + py * headHalfW],
    [nx + px * hs, ny + py * hs],
    [tail[0] + px * hs, tail[1] + py * hs],
    [tail[0] - px * hs, tail[1] - py * hs],
    [nx - px * hs, ny - py * hs],
    [bx - px * headHalfW, by - py * headHalfW],
  ];
}

const minus = (v: number) => String(v).replace("-", "\u2212");

export default function App() {
  const ref = useRef<HTMLDivElement>(null);

  useEffect(() => {
    if (!ref.current) return;
    const chart = echarts.init(ref.current, null, { renderer: "svg" });

    const lineBase = {
      type: "line" as const,
      showSymbol: false,
      symbol: "none",
      silent: true,
      emphasis: { disabled: true },
      xAxisIndex: 0,
      yAxisIndex: 0,
    };

    const axisLine = { show: true, onZero: false, lineStyle: { color: "#000", width: 1.5 } };
    const axisTick = { show: true, inside: true, length: 18, lineStyle: { color: "#000", width: 1.2 } };
    const splitLine = { show: true, lineStyle: { color: "#333", width: 1, type: [1, 6] } };

    const infoText = INFO_LINES.map((t, i) => ({
      type: "text",
      x: 129,
      y: 745 + i * 21,
      z: 5,
      style: { text: t, fill: "#000", font: `18px ${FONT}`, textAlign: "left", textVerticalAlign: "middle" },
    }));

    const arrow1 = arrowPolygon([564, 380], [1003, 487], 20, 58, 33, 10);
    const arrow2 = arrowPolygon([521.5, 586], [375, 910], 27, 74, 37, 12);

    const legendData = LEGEND_NAMES.map((name, i) =>
      i === 0 ? { name } : { name, itemStyle: { opacity: 0 }, lineStyle: { width: LEGEND_LINE_WIDTHS[i] } }
    );

    chart.setOption({
      animation: false,
      backgroundColor: "#fff",
      grid: { left: 95, right: 40, top: 14, bottom: 62, containLabel: false },
      xAxis: [
        {
          type: "value",
          min: X_MIN,
          max: X_MAX,
          interval: 1,
          position: "bottom",
          axisLine,
          axisTick,
          splitLine,
          axisLabel: {
            color: "#000",
            fontSize: 25,
            fontFamily: FONT,
            lineHeight: 20,
            margin: 15,
            formatter: (v: number) => String(v),
          },
        },
        {
          type: "value",
          min: X_MIN,
          max: X_MAX,
          interval: 1,
          position: "top",
          axisLine,
          axisTick,
          splitLine: { show: false },
          axisLabel: { show: false },
        },
      ],
      yAxis: [
        {
          type: "value",
          min: Y_MIN,
          max: Y_MAX,
          interval: 5,
          position: "left",
          axisLine,
          axisTick,
          splitLine,
          axisLabel: {
            color: "#000",
            fontSize: 25,
            fontFamily: FONT,
            lineHeight: 19,
            margin: 6,
            // the lowest label is drawn separately, lifted slightly so it clears the year labels
            formatter: (v: number) => (v === Y_MIN ? "" : minus(v)),
          },
        },
        {
          type: "value",
          min: Y_MIN,
          max: Y_MAX,
          interval: 5,
          position: "right",
          axisLine,
          axisTick,
          splitLine: { show: false },
          axisLabel: { show: false },
        },
      ],
      legend: {
        orient: "vertical",
        left: 129,
        top: 43,
        padding: 0,
        itemGap: 18,
        itemWidth: 57,
        itemHeight: 12,
        selectedMode: false,
        z: 6,
        textStyle: { color: "#000", fontSize: 18, fontFamily: FONT, lineHeight: 18 },
        data: legendData,
      },
      series: [
        {
          type: "scatter",
          name: LEGEND_NAMES[0],
          data: IABS,
          symbol: "circle",
          symbolSize: 10,
          silent: true,
          itemStyle: { color: "rgba(255,255,255,0)", borderColor: "#000", borderWidth: 3, opacity: 1 },
        },
        {
          ...lineBase,
          name: LEGEND_NAMES[1],
          data: SIABS,
          itemStyle: { color: "#0000ff" },
          lineStyle: { color: "#0000ff", width: 2.2 },
        },
        {
          ...lineBase,
          name: LEGEND_NAMES[2],
          data: SINES_FIT,
          smooth: 0.3,
          itemStyle: { color: "#ffff00" },
          lineStyle: { color: "#ffff00", width: 3 },
        },
        {
          ...lineBase,
          name: LEGEND_NAMES[3],
          data: SEASONAL,
          itemStyle: { color: "#00ffff" },
          lineStyle: { color: "#00ffff", width: 3.5 },
        },
        {
          ...lineBase,
          name: LEGEND_NAMES[4],
          data: LONG_TREND,
          itemStyle: { color: "#00ff00" },
          lineStyle: { color: "#00ff00", width: 3.5, type: [11, 8] },
        },
        {
          ...lineBase,
          name: LEGEND_NAMES[5],
          data: RESID_TREND,
          itemStyle: { color: "#ff00ff" },
          lineStyle: { color: "#ff00ff", width: 3.5, type: [11, 8] },
        },
        {
          ...lineBase,
          name: LEGEND_NAMES[6],
          data: SEASON_SINE,
          smooth: 0.5,
          itemStyle: { color: "#ff0000" },
          lineStyle: { color: "#ff0000", width: 2.2, type: [9, 6] },
        },
        {
          ...lineBase,
          name: "trend highlight",
          data: HIGHLIGHT_TREND,
          itemStyle: { color: "#ff4516" },
          lineStyle: { color: "#ff4516", width: 19, type: [40, 40], cap: "butt" },
        },
      ],
      graphic: [
        { type: "line", shape: { x1: 10, y1: 0, x2: 10, y2: 897 }, style: { stroke: "#000", lineWidth: 1.5 }, z: 1 },
        {
          type: "rect",
          shape: { x: 117.5, y: 29.5, width: 765, height: 261 },
          style: { fill: "#fff", stroke: "#000", lineWidth: 1.3 },
          z: 4,
        },
        { type: "rect", shape: { x: 115, y: 730, width: 392, height: 90 }, style: { fill: "#fff" }, z: 4 },
        ...infoText,
        {
          type: "text",
          x: 89,
          y: 829,
          z: 5,
          style: {
            text: minus(Y_MIN),
            fill: "#000",
            font: `25px ${FONT}`,
            textAlign: "right",
            textVerticalAlign: "middle",
          },
        },
        {
          type: "text",
          x: 997,
          y: 500,
          scaleX: 0.87,
          z: 7,
          style: {
            text: ANNOTATION,
            fill: "#0066ff",
            font: `600 123px 'Open Sans', 'DejaVu Sans', sans-serif`,
            textAlign: "left",
            textVerticalAlign: "middle",
          },
        },
        { type: "polygon", shape: { points: arrow1 }, style: { fill: "#000" }, z: 8 },
        { type: "polygon", shape: { points: arrow2 }, style: { fill: "#000" }, z: 8 },
        {
          type: "text",
          x: 24,
          y: 424,
          rotation: Math.PI / 2,
          z: 5,
          style: { text: Y_TITLE, fill: "#000", font: `25px ${FONT}`, textAlign: "center", textVerticalAlign: "middle" },
        },
        {
          type: "text",
          x: 1049.5,
          y: 881,
          z: 5,
          style: { text: X_TITLE, fill: "#000", font: `25px ${FONT}`, textAlign: "center", textVerticalAlign: "middle" },
        },
      ],
    });

    return () => chart.dispose();
  }, []);

  return <div ref={ref} style={{ position: "absolute", left: 0, top: 0, width: 2044, height: 897 }} />;
}
